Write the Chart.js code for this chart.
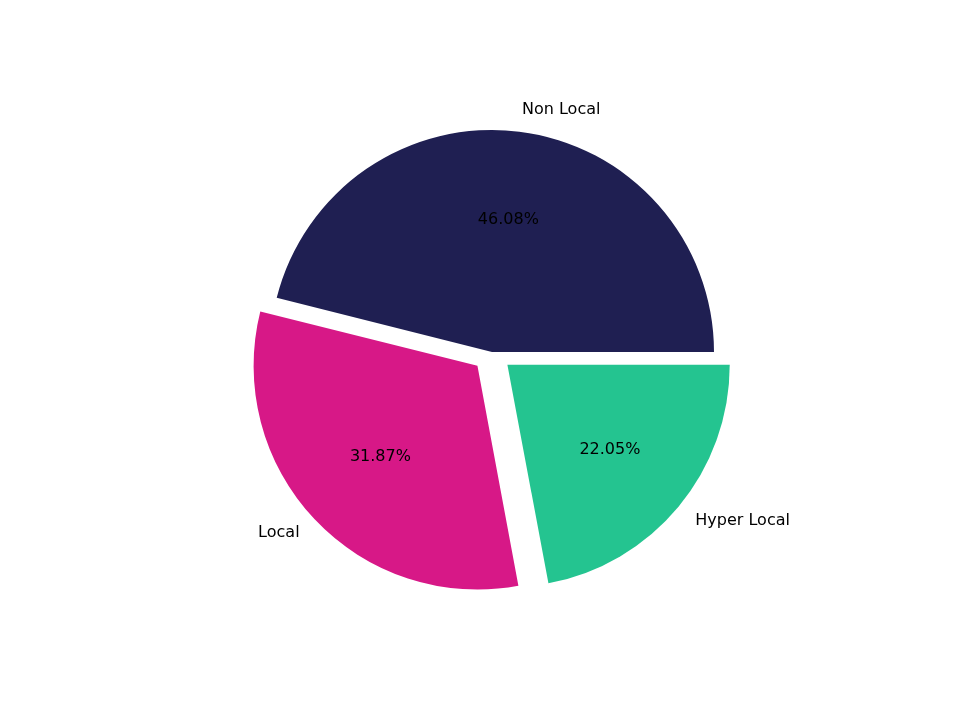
<!DOCTYPE html>
<html><head><meta charset="utf-8">
<script src="https://cdn.jsdelivr.net/npm/chart.js@4"></script>
<style>html,body{margin:0;padding:0;background:#fff}#w{width:960px;height:720px}</style>
</head><body><div id="w"><canvas id="c"></canvas></div>
<script>
// Order: clockwise on screen starting at 3 o'clock (matplotlib CCW order reversed)
const categories = ["Hyper Local", "Local", "Non Local"];
const values = [22.05, 31.87, 46.08];
const colors = ["#24c490", "#d71887", "#1f1f52"];
const offsets = [80, 80, 0];

const labelPlugin = {
  id: 'pieLabels',
  afterDatasetsDraw(chart) {
    const ctx = chart.ctx;
    const meta = chart.getDatasetMeta(0);
    ctx.save();
    ctx.font = '16px "DejaVu Sans"';
    ctx.fillStyle = '#000';
    ctx.textBaseline = 'middle';
    meta.data.forEach((arc, i) => {
      const p = arc.getProps(['x','y','startAngle','endAngle','outerRadius'], true);
      const mid = (p.startAngle + p.endAngle) / 2;
      const off = offsets[i] / 4;
      const cx = p.x + Math.cos(mid) * off, cy = p.y + Math.sin(mid) * off;
      const r = p.outerRadius;
      const lx = cx + Math.cos(mid) * r * 1.1, ly = cy + Math.sin(mid) * r * 1.1;
      ctx.textAlign = Math.cos(mid) >= 0 ? 'left' : 'right';
      ctx.fillText(categories[i], lx, ly);
      ctx.textAlign = 'center';
      ctx.fillText(values[i].toFixed(2) + '%', cx + Math.cos(mid) * r * 0.6, cy + Math.sin(mid) * r * 0.6);
    });
    ctx.restore();
  }
};

new Chart(document.getElementById('c'), {
  type: 'pie',
  data: { labels: categories, datasets: [{ data: values, backgroundColor: colors, borderWidth: 0, offset: offsets, hoverOffset: 0 }] },
  options: {
    responsive: true, maintainAspectRatio: false, animation: false,
    rotation: 90,
    layout: { padding: { top: 90, bottom: 106, left: 230, right: 206 } },
    plugins: { legend: { display: false }, tooltip: { enabled: false } }
  },
  plugins: [labelPlugin]
});
</script></body></html>
